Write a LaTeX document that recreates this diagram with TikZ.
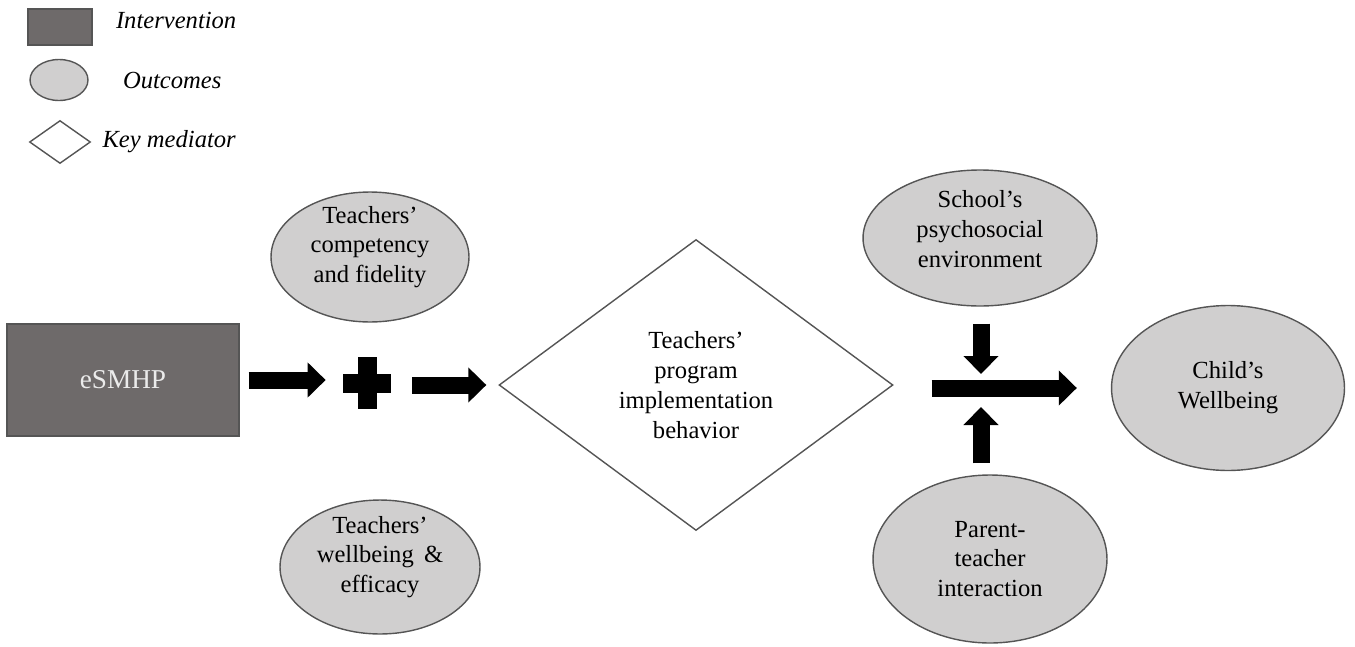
\documentclass[tikz,border=0pt]{standalone}
\usepackage{fontspec}
\setmainfont{Liberation Serif}
\usetikzlibrary{arrows.meta, positioning, shapes.geometric}

\definecolor{interv}{HTML}{6E6A6A}
\definecolor{outc}{HTML}{D0CFCF}
\definecolor{edge}{HTML}{555555}

\begin{document}
\begin{tikzpicture}[x=0.02cm, y=-0.02cm,
  every node/.style={font=\fontsize{14}{17}\selectfont, text=black},
  intervention/.style={draw=edge, fill=interv, line width=0.8pt, inner sep=0pt},
  outcome/.style={ellipse, draw=edge, fill=outc, line width=0.8pt, inner sep=0pt},
  mediator/.style={diamond, draw=edge, fill=white, line width=0.8pt, inner sep=0pt},
  legtext/.style={inner sep=0pt, font=\fontsize{14}{17}\selectfont\itshape},
  intext/.style={align=center, inner sep=0pt},
  blockarr/.style={line width=0.34cm, draw=black, -{Triangle[length=0.36cm, width=0.68cm]}}]

  \useasboundingbox (0,0) rectangle (1355,646);

  % Legend
  \node (legI) [intervention, minimum width=1.28cm, minimum height=0.72cm] at (60,27) {};
  \node (legO) [outcome, minimum width=1.16cm, minimum height=0.82cm] at (59,80) {};
  \node (legM) [mediator, minimum width=1.22cm, minimum height=0.86cm] at (60,142) {};
  \node [legtext, right=0.46cm of legI, yshift=0.14cm] {Intervention};
  \node [legtext, right=0.68cm of legO] {Outcomes};
  \node [legtext, right=0.22cm of legM] {Key mediator};

  % Nodes
  \node (esmhp) [intervention, minimum width=4.64cm, minimum height=2.24cm,
    text=white!92!black, font=\fontsize{15.5}{18}\selectfont] at (123,380) {eSMHP};
  \node (comp) [outcome, minimum width=3.96cm, minimum height=2.6cm,
    label={[intext, yshift=0.2cm]center:{Teachers'\\competency\\and fidelity}}] at (370,257) {};
  \node (well) [outcome, minimum width=4.0cm, minimum height=2.68cm,
    label={[intext, yshift=0.2cm]center:{Teachers'\\wellbeing \,\&\\efficacy}}] at (380,567) {};
  \node (plus) [minimum width=0.96cm, minimum height=1.04cm, inner sep=0pt,
    path picture={
      \fill ([xshift=-0.48cm, yshift=-0.19cm]path picture bounding box.center) rectangle ++(0.96cm,0.38cm);
      \fill ([xshift=-0.19cm, yshift=-0.52cm]path picture bounding box.center) rectangle ++(0.38cm,1.04cm);
    }] at (367,383) {};
  \node (impl) [mediator, minimum width=7.88cm, minimum height=5.82cm, intext] at (696,385)
    {Teachers'\\program\\implementation\\behavior};
  \node (school) [outcome, minimum width=4.68cm, minimum height=2.72cm,
    label={[intext, yshift=0.18cm]center:{School's\\psychosocial\\environment}}] at (980,238) {};
  \node (parent) [outcome, minimum width=4.68cm, minimum height=3.36cm, intext] at (990,559)
    {Parent-\\teacher\\interaction};
  \node (child) [outcome, minimum width=4.66cm, minimum height=3.3cm, intext] at (1228,388)
    {Child's\\Wellbeing};
  \coordinate (jn) at (981,388);

  % Edges
  \draw[blockarr, shorten <=0.18cm, shorten >=0.34cm] (esmhp.east) -- (esmhp.east -| plus.west);
  \draw[blockarr, shorten <=0.42cm, shorten >=0.24cm] (plus.east |- impl.west) -- (impl.west);
  \draw[blockarr, shorten <=0.76cm, shorten >=0.68cm] (impl.east |- jn) -- (child.west |- jn);
  \draw[blockarr, shorten <=0.34cm, shorten >=0.28cm] (school.south -| jn) -- (jn);
  \draw[blockarr, shorten <=0.22cm, shorten >=0.38cm] (parent.north -| jn) -- (jn);

\end{tikzpicture}
\end{document}
